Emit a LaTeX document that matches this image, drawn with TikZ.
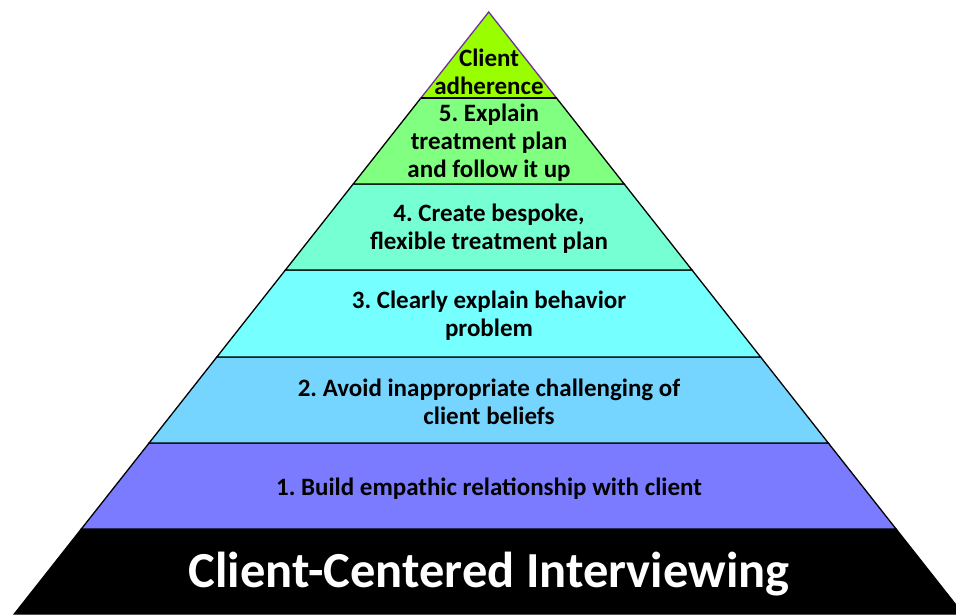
\documentclass[tikz,border=0pt]{standalone}
\usepackage{fontspec}
\setmainfont{Carlito}
\frenchspacing
\usetikzlibrary{calc}
\definecolor{cTop}{RGB}{153,255,0}
\definecolor{cFive}{RGB}{128,255,128}
\definecolor{cFour}{RGB}{119,255,212}
\definecolor{cThree}{RGB}{117,255,255}
\definecolor{cTwo}{RGB}{117,213,255}
\definecolor{cOne}{RGB}{123,123,255}
\definecolor{cEdge}{RGB}{112,48,160}
\tikzset{
  layer/.style={draw=black, line width=1.3pt, line join=miter},
  lbl/.style={align=center, font=\fontsize{25}{28}\selectfont\bfseries, text=black, inner sep=0pt},
  ttl/.style={font=\fontsize{50.5}{54}\selectfont\bfseries, text=white, inner sep=0pt}
}
\begin{document}
\begin{tikzpicture}[x=1pt,y=-1pt]
\useasboundingbox (0,0) rectangle (956,614);
\clip (0,0) rectangle (956,614);
% boundary coordinates
\coordinate (A) at (488.7,12);
\coordinate (L1) at (420.9,98);  \coordinate (R1) at (556.5,98);
\coordinate (L2) at (353.2,184); \coordinate (R2) at (624.2,184);
\coordinate (L3) at (285.4,270); \coordinate (R3) at (692.0,270);
\coordinate (L4) at (216.8,357); \coordinate (R4) at (760.6,357);
\coordinate (L5) at (149.1,443); \coordinate (R5) at (828.3,443);
\coordinate (L6) at (81.3,529);  \coordinate (R6) at (896.1,529);
\coordinate (L7) at (14.3,614);  \coordinate (R7) at (963.1,614);
% layers
\draw[layer, fill=black] (L6) -- (R6) -- (R7) -- (L7) -- cycle;
\draw[layer, fill=cOne] (L5) -- (R5) -- (R6) -- (L6) -- cycle;
\draw[layer, fill=cTwo] (L4) -- (R4) -- (R5) -- (L5) -- cycle;
\draw[layer, fill=cThree] (L3) -- (R3) -- (R4) -- (L4) -- cycle;
\draw[layer, fill=cFour] (L2) -- (R2) -- (R3) -- (L3) -- cycle;
\draw[layer, fill=cFive] (L1) -- (R1) -- (R2) -- (L2) -- cycle;
\draw[layer, draw=cEdge, fill=cTop] (A) -- (R1) -- (L1) -- cycle;
\draw[line width=1.3pt, black] (L1) -- (R1);
% labels
\node[lbl] (t0) at (489,71.5) {Client\\adherence};
\node[lbl] (t5) at (489,142.5) {5. Explain\\treatment plan\\and follow it up};
\node[lbl] (t4) at (489,228.5) {4. Create bespoke,\\flexible treatment plan};
\node[lbl] (t3) at (489,315.5) {3. Clearly explain behavior\\problem};
\node[lbl] (t2) at (489,401.5) {2. Avoid inappropriate challenging of\\client beliefs};
\node[lbl] (t1) at (489,488.5) {1. Build empathic relationship with client};
\node[ttl] (tt) at (489,574) {Client-Centered Interviewing};
\end{tikzpicture}
\end{document}
